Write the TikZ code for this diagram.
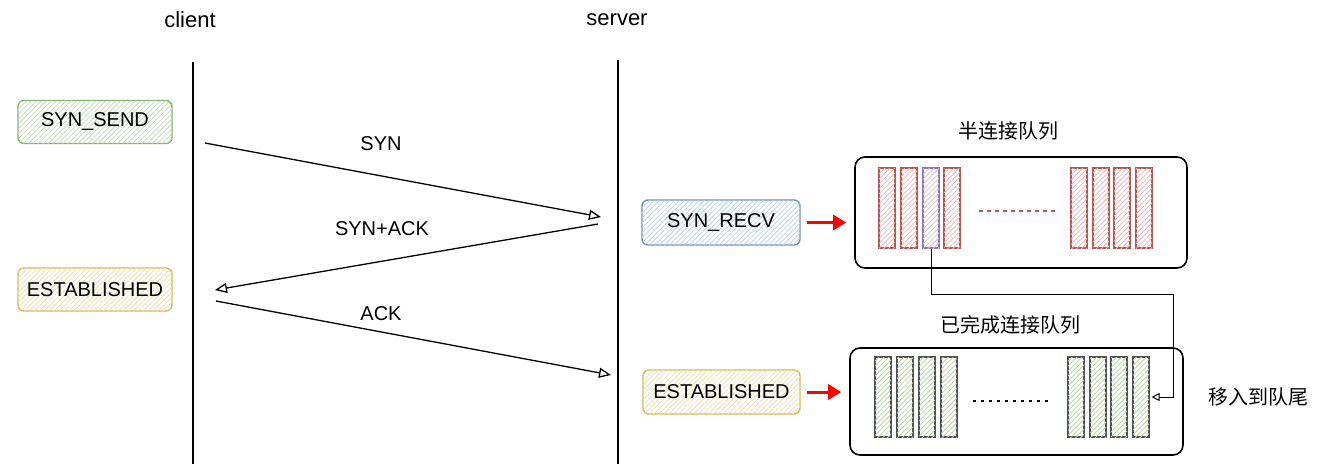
\documentclass[tikz,border=0pt]{standalone}
\usepackage{fontspec}
\setmainfont{Liberation Sans}
\newfontfamily\cjk{Noto Sans CJK SC}
\usetikzlibrary{arrows.meta, patterns.meta, positioning}

\definecolor{SendLine}{HTML}{82B366}
\definecolor{SendFill}{HTML}{C3DEBD}
\definecolor{EstLine}{HTML}{D6B656}
\definecolor{EstFill}{HTML}{F2E0B0}
\definecolor{RecvLine}{HTML}{6C8EBF}
\definecolor{RecvFill}{HTML}{BDD3F0}
\definecolor{CellRed}{HTML}{B85450}
\definecolor{CellRedFill}{HTML}{EDB8B5}
\definecolor{CellPurple}{HTML}{9673A6}
\definecolor{CellPurpleFill}{HTML}{D6C4DE}
\definecolor{CellGreen}{HTML}{4F4F4F}
\definecolor{CellGreenFill}{HTML}{B9D69E}

\tikzset{
    hatch/.style = {pattern = {Lines[angle = 45, distance = 3.5pt, line width = 0.8pt]}, pattern color = #1},
    statebox/.style 2 args = {draw = #1, line width = 1.4pt, rounded corners = 6pt, fill = white,
        postaction = {hatch = #2}, minimum width = 154pt, minimum height = 43pt},
    cell/.style 2 args = {draw = #1, line width = 1.1pt, fill = white, postaction = {hatch = #2},
        minimum width = 16pt, minimum height = 80pt, inner sep = 0pt},
    queuebox/.style = {draw, line width = 1.6pt, rounded corners = 10pt, inner sep = 0pt},
    msg/.style = {line width = 1.3pt, -{Triangle[open, length = 12pt, width = 10pt, line width = 1.3pt]}},
    push/.style = {draw = red, line width = 3pt, -{Triangle[length = 13pt, width = 15pt]},
        shorten < = 6pt, shorten > = 8pt},
    lifeline/.style = {line width = 1.5pt},
}

\begin{document}
\begin{tikzpicture}[x = 1pt, y = -1pt, font = \fontsize{20}{24}\selectfont]

\useasboundingbox (0, 0) rectangle (1321, 464);

% lifelines
\node (client) at (190, 20) {\fontsize{22}{26}\selectfont client};
\node (server) at (617, 20) {\fontsize{22}{26}\selectfont server};
\coordinate (client top) at (193, 62);
\coordinate (client bot) at (193, 464);
\coordinate (server top) at (618, 60);
\coordinate (server bot) at (618, 464);
\draw[lifeline] (client top) -- (client bot);
\draw[lifeline] (server top) -- (server bot);

% client states
\node[statebox = {SendLine}{SendFill}] (synsend) at (95, 122) {SYN\_SEND};
\node[statebox = {EstLine}{EstFill}] (estclient) at (95, 289.5) {ESTABLISHED};

% handshake
\coordinate (syn a) at (205, 143);
\coordinate (syn b) at (601, 217);
\coordinate (synack a) at (598, 224);
\coordinate (synack b) at (215, 290);
\coordinate (ack a) at (216, 301);
\coordinate (ack b) at (611, 375);
\draw[msg] (syn a) -- (syn b);
\draw[msg] (synack a) -- (synack b);
\draw[msg] (ack a) -- (ack b);
\node (synlbl) at (381, 144) {SYN};
\node (synacklbl) at (382, 229) {SYN+ACK};
\node (acklbl) at (381, 314) {ACK};

% server states
\node[statebox = {RecvLine}{RecvFill}, minimum width = 158pt, minimum height = 45pt] (synrecv) at (721, 222.5) {SYN\_RECV};
\node[statebox = {EstLine}{EstFill}, minimum width = 157pt, minimum height = 44pt] (estserver) at (721.5, 392) {ESTABLISHED};

% half-open queue
\node[queuebox, minimum width = 332pt, minimum height = 111pt] (halfq) at (1021, 212.5) {};
\node (halfqlbl) at (1008, 131) {\cjk 半连接队列};
\foreach \i/\x in {1/887, 2/909, 4/952, 5/1079, 6/1101, 7/1122, 8/1144}
    \node[cell = {CellRed}{CellRedFill}] (h\i) at (\x, 208) {};
\node[cell = {CellPurple}{CellPurpleFill}] (h3) at (931, 208) {};
\draw[CellRed, line width = 1.5pt, dash pattern = on 4pt off 4pt] (979, 211) -- (1055, 211);

% accept queue
\node[queuebox, minimum width = 333pt, minimum height = 107pt] (doneq) at (1016.5, 401.5) {};
\node (doneqlbl) at (1010, 325) {\cjk 已完成连接队列};
\foreach \i/\x in {1/883, 2/905, 3/927, 4/949, 5/1076, 6/1098, 7/1119, 8/1141}
    \node[cell = {CellGreen}{CellGreenFill}] (g\i) at (\x, 397) {};
\draw[line width = 1.5pt, dash pattern = on 3pt off 5pt] (973, 401) -- (1050, 401);

% pushes into the queues
\draw[push] (synrecv.east) -- (synrecv.east -| halfq.west);
\draw[push] (estserver.east) -- (estserver.east -| doneq.west);

% move to tail
\coordinate (turn) at (1173, 294);
\draw[line width = 1pt, -{Triangle[open, length = 8pt, width = 8pt]}, shorten > = 2pt]
    (h3.south) |- (turn) |- (g8.east);
\node (movelbl) at (1258, 397) {\cjk 移入到队尾};

\end{tikzpicture}
\end{document}
